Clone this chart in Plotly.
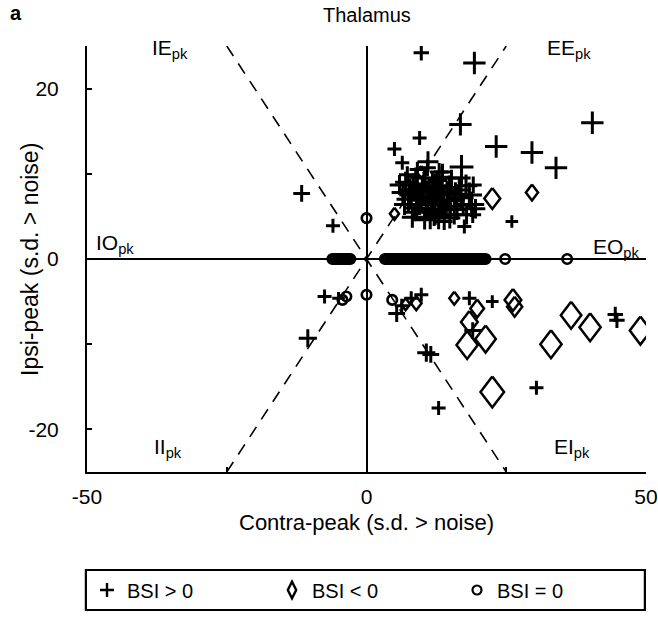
import plotly.graph_objects as go

# BSI > 0 units (plus markers): contra-peak, ipsi-peak, marker size
pos_x = [9.8, 19.3, 16.8, 40.4, 9.5, 5.0, 23.2, 29.6, 33.9, 6.4, 11.0, 17.0, 13.6,
         26.0, 17.5, 19.0, -11.6, -6.0,
         5.9, 7.3, 8.0, 9.1, 9.8, 10.5, 11.2, 12.0, 12.7, 13.4, 14.1, 14.8, 15.7,
         16.6, 17.3, 18.4, 19.1, 6.8, 8.6, 10.4, 12.1, 13.9, 15.7, 10.9, 13.0,
         15.2, 9.1, 7.7, 9.5, 11.6, 14.5, 17.0, 12.5, 10.7, 13.2,
         6.5, 7.5, 8.3, 9.0, 10.0, 10.8, 11.8, 12.3, 13.0, 13.8, 14.4, 15.0,
         15.9, 16.2, 17.8, 18.8, 19.5, 7.0, 8.8, 11.4, 12.9, 14.9, 16.9, 10.2,
         12.3, 9.4, 11.0, 13.5, 17.9, 8.2,
         -7.5, -10.5, 5.4, 6.3, 9.8, 8.0, 18.4, 22.5, 19.0, 10.7, 11.5, 12.9,
         30.4, 44.5, 44.8, -5.0]
pos_y = [24.2, 23.0, 15.8, 16.0, 14.2, 12.9, 13.2, 12.5, 10.7, 11.3, 11.4, 10.8, 10.2,
         4.4, 3.8, 5.2, 7.7, 3.9,
         8.7, 9.9, 7.5, 8.7, 6.9, 9.5, 8.1, 6.4, 9.2, 7.5, 5.8, 8.4, 6.9,
         8.1, 6.4, 7.5, 8.7, 6.4, 5.5, 4.6, 5.2, 4.4, 5.2, 10.7, 10.2,
         9.5, 10.5, 8.1, 6.4, 7.2, 6.9, 9.5, 7.9, 5.8, 6.4,
         7.8, 7.0, 8.8, 6.0, 7.8, 6.6, 9.0, 5.5, 8.3, 6.9, 7.8, 6.2,
         7.6, 5.8, 8.6, 6.4, 5.9, 9.0, 9.6, 4.8, 4.9, 4.8, 7.2, 8.4,
         8.6, 7.3, 7.4, 9.6, 5.2, 4.9,
         -4.4, -9.3, -6.4, -5.5, -4.2, -4.6, -4.6, -5.0, -8.4, -11.0, -11.2, -17.5,
         -15.1, -6.5, -7.2, -4.6]
pos_size = [11, 16, 16, 16, 10, 10, 16, 16, 16, 10, 15, 17, 12,
            9, 10, 12, 12, 10,
            14, 12, 17, 15, 18, 13, 19, 16, 14, 18, 13, 17, 15,
            16, 14, 18, 12, 15, 13, 14, 16, 12, 14, 12, 13,
            12, 11, 16, 15, 18, 14, 13, 17, 15, 16,
            16, 17, 15, 18, 19, 17, 16, 18, 17, 19, 16, 18,
            17, 15, 16, 18, 14, 15, 14, 16, 17, 15, 18, 16,
            17, 18, 19, 15, 14, 15,
            10, 13, 12, 10, 10, 10, 10, 9, 12, 13, 12, 10,
            10, 11, 11, 9]

# BSI < 0 units (diamonds): contra-peak, ipsi-peak, diamond height in px
neg_x = [22.5, 29.6, 5.0, 8.9, 7.0, 15.7, 19.8, 18.4, 18.0, 21.3, 26.2, 26.5,
         22.5, 33.0, 36.6, 40.0, 49.0, 9.8]
neg_y = [7.1, 7.8, 5.3, -5.2, -5.3, -4.6, -5.8, -7.4, -10.1, -9.4, -4.8, -5.6,
         -15.6, -10.0, -6.6, -8.0, -8.4, 10.2]
neg_h = [21, 16, 12, 14, 12, 13, 18, 22, 28, 27, 22, 20,
         31, 28, 27, 28, 28, 12]

# BSI = 0 units (circle markers): off-axis units, then the runs along ipsi = 0
zero_off_x = [0.0, 0.0, 4.6, -3.6, -4.3]
zero_off_y = [4.8, -4.2, -4.8, -4.4, -4.8]
zero_axis_x = [-6.1, -5.8, -5.5, -5.1, -4.8, -4.4, -4.1, -3.8, -3.4, -3.2, -2.9,
               3.3, 3.6, 3.8, 4.2, 4.5, 4.7, 5.1, 5.4, 5.6, 6.0, 6.3, 6.5, 6.9,
               7.2, 7.4, 7.8, 8.1, 8.3, 8.7, 9.0, 9.2, 9.6, 9.9, 10.1, 10.5,
               10.8, 11.0, 11.4, 11.7, 11.9, 12.3, 12.6, 12.8, 13.2, 13.5, 13.7,
               14.1, 14.4, 14.6, 15.0, 15.3, 15.5, 15.9, 16.2, 16.4, 16.8, 17.1,
               17.3, 17.7, 18.0, 18.2, 18.6, 18.9, 19.1, 19.5, 19.8, 20.0, 20.4,
               20.7, 21.0, 21.3, 24.8, 35.9]
zero_x = zero_off_x + zero_axis_x
zero_y = zero_off_y + [0.0] * len(zero_axis_x)

# Quadrant boundary diagonals
diag_x = [-25, 25]
diag_up = [-25, 25]
diag_down = [25, -25]

# Region labels
region_text = ["IE<sub>pk</sub>", "EE<sub>pk</sub>", "IO<sub>pk</sub>",
               "EO<sub>pk</sub>", "II<sub>pk</sub>", "EI<sub>pk</sub>"]
region_x = [-35.2, 36.3, -45.0, 44.8, -35.5, 36.8]
region_y = [24.6, 24.6, 1.8, 1.3, -22.2, -22.2]

FONT = "Liberation Sans, Arial, Helvetica, sans-serif"
PX_PER_X = 559 / 100.0   # plot width / x span
PX_PER_Y = 426 / 50.0    # plot height / y span


def diamond_path(cx, cy, h):
    """Closed outline of a diamond of height h px (width 0.76 h) at (cx, cy)."""
    dx = 0.38 * h / PX_PER_X
    dy = 0.5 * h / PX_PER_Y
    return ([cx, cx + dx, cx, cx - dx, cx, None],
            [cy + dy, cy, cy - dy, cy, cy + dy, None])


fig = go.Figure()

for ys in (diag_up, diag_down):
    fig.add_trace(go.Scatter(x=diag_x, y=ys, mode="lines", showlegend=False,
                             hoverinfo="skip",
                             line=dict(color="black", width=1.6, dash="12px,9px")))

fig.add_trace(go.Scatter(x=zero_x, y=zero_y, mode="markers", showlegend=False,
                         marker=dict(symbol="circle-open", size=9.5, color="black",
                                     opacity=1,
                                     line=dict(width=2.6, color="black"))))

dxs, dys = [], []
for cx, cy, h in zip(neg_x, neg_y, neg_h):
    px, py = diamond_path(cx, cy, h)
    dxs += px
    dys += py
fig.add_trace(go.Scatter(x=dxs, y=dys, mode="lines", showlegend=False,
                         hoverinfo="skip", connectgaps=False,
                         line=dict(color="black", width=2.5)))

fig.add_trace(go.Scatter(x=pos_x, y=pos_y, mode="markers", showlegend=False,
                         marker=dict(symbol="cross-thin-open", size=pos_size,
                                     color="black", opacity=1,
                                     line=dict(width=3, color="black"))))

# Legend entries
fig.add_trace(go.Scatter(x=[None], y=[None], mode="markers", name="BSI > 0",
                         marker=dict(symbol="cross-thin-open", size=10, color="black",
                                     line=dict(width=2.4, color="black"))))
fig.add_trace(go.Scatter(x=[None], y=[None], mode="markers", name="BSI < 0",
                         marker=dict(symbol="diamond-tall-open", size=12, color="black",
                                     line=dict(width=2.4, color="black"))))
fig.add_trace(go.Scatter(x=[None], y=[None], mode="markers", name="BSI = 0",
                         marker=dict(symbol="circle-open", size=9, color="black",
                                     line=dict(width=2.2, color="black"))))

for t, x, y in zip(region_text, region_x, region_y):
    fig.add_annotation(x=x, y=y, text=t, showarrow=False,
                       font=dict(family=FONT, size=21, color="black"),
                       xanchor="center", yanchor="middle")

fig.add_annotation(x=0.5, y=1.0, xref="paper", yref="paper", text="Thalamus",
                   showarrow=False, yanchor="middle", yshift=31,
                   font=dict(family=FONT, size=20, color="black"))
fig.add_annotation(x=0, y=1.0, xref="paper", yref="paper", text="<b>a</b>",
                   showarrow=False, xanchor="left", yanchor="middle",
                   xshift=-79, yshift=33,
                   font=dict(family=FONT, size=20, color="black"))

# Axis titles
fig.add_annotation(x=0.5, y=-0.1174, xref="paper", yref="paper",
                   text="Contra-peak (s.d. > noise)", showarrow=False,
                   xanchor="center", yanchor="middle",
                   font=dict(family=FONT, size=22, color="black"))
fig.add_annotation(x=-0.102, y=0.5, xref="paper", yref="paper",
                   text="Ipsi-peak (s.d. > noise)", showarrow=False, textangle=-90,
                   xanchor="center", yanchor="middle",
                   font=dict(family=FONT, size=23, color="black"))

# Legend frame spanning the plot width
fig.add_shape(type="rect", xref="paper", yref="paper", x0=-0.002, x1=0.998,
              y0=-0.324, y1=-0.230, line=dict(color="black", width=2.2),
              fillcolor="rgba(0,0,0,0)")

fig.update_layout(
    width=658, height=619,
    margin=dict(l=87, r=12, t=46, b=147, autoexpand=False),
    paper_bgcolor="white", plot_bgcolor="white",
    font=dict(family=FONT, size=21, color="black"),
    showlegend=True,
    legend=dict(orientation="h", x=0, xanchor="left", y=-0.277, yanchor="middle",
                borderwidth=0, entrywidth=140, bgcolor="rgba(0,0,0,0)",
                font=dict(family=FONT, size=20, color="black"),
                itemclick=False, itemdoubleclick=False),
    xaxis=dict(range=[-50, 50], tickvals=[-50, -25, 0, 25, 50],
               ticktext=["-50", "", "0", "", "50"], ticks="inside", ticklen=5,
               tickwidth=1.5, tickcolor="black", showline=True, linecolor="black",
               linewidth=2, showgrid=False, zeroline=True, zerolinecolor="black",
               zerolinewidth=1.5, ticklabelstandoff=5,
               tickfont=dict(family=FONT, size=21, color="black")),
    yaxis=dict(range=[-25, 25], tickvals=[-20, -10, 0, 10, 20],
               ticktext=["-20", "", "0", "", "20"], ticks="inside", ticklen=5,
               tickwidth=1.5, tickcolor="black", showline=True, linecolor="black",
               linewidth=2, showgrid=False, zeroline=True, zerolinecolor="black",
               zerolinewidth=2, ticklabelstandoff=22,
               tickfont=dict(family=FONT, size=21, color="black")),
)

fig.write_html("out.html")
